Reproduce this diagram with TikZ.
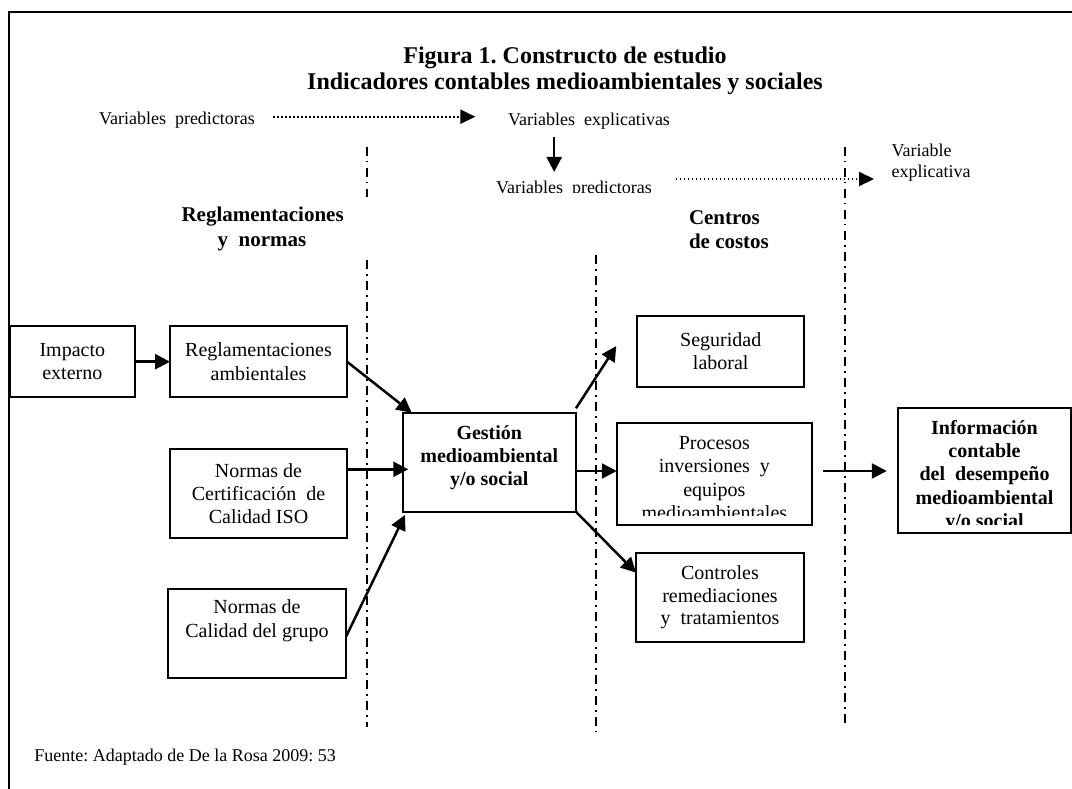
\documentclass[tikz,border=0pt]{standalone}
\usepackage{fontspec}
\setmainfont{Liberation Serif}
\usetikzlibrary{arrows.meta}
\frenchspacing
\tikzset{
  box/.style={draw, line width=2pt, outer sep=0pt, inner sep=0pt, align=center, font=\fontsize{20}{23.3}\selectfont},
  txt/.style={inner sep=0pt, outer sep=0pt, align=center},
  lab/.style={inner sep=0pt, outer sep=0pt, anchor=base, font=\fontsize{18}{21}\selectfont, text height=13pt, text depth=4pt},
  hdr/.style={inner sep=0pt, outer sep=0pt, anchor=base, font=\fontsize{21}{25}\selectfont\bfseries},
  ttl/.style={inner sep=0pt, outer sep=0pt, anchor=base, font=\fontsize{24}{27}\selectfont\bfseries},
  arr/.style={line width=2.5pt, -{Triangle[length=15pt,width=15pt]}},
  dotarr/.style={line width=2pt, dash pattern=on 1.8pt off 2.2pt, -{Triangle[length=15pt,width=14pt]}},
  sepline/.style={line width=2pt, dash pattern=on 9pt off 5pt on 1.5pt off 5.5pt},
}
\begin{document}
\begin{tikzpicture}[x=1pt,y=-1pt]
\useasboundingbox (0,0) rectangle (1072,789);
% frame
\draw[line width=2pt] (1072,11.7) -- (8.6,11.7) -- (8.6,789);

% title
\node[ttl] (t1) at (565,63.3) {Figura 1. Constructo de estudio};
\node[ttl] (t2) at (565,90) {Indicadores contables medioambientales y sociales};

% top labels
\node[lab] (vp1) at (177,125) {Variables\ \ predictoras};
\node[lab] (ve1) at (589,126) {Variables\ \ explicativas};
\begin{scope}
\clip (0,0) rectangle (1072,192.5);
\node[lab] (vp2) at (574,193.5) {Variables\ \ predictoras};
\end{scope}
\node[lab, anchor=base west] (vex1) at (891.7,156.7) {Variable};
\node[lab, anchor=base west] (vex2) at (891.7,178) {explicativa};

\draw[dotarr, shorten <=17.9pt, shorten >=32.7pt] ([yshift=3.8pt]vp1.east) -- ([yshift=3.8pt]vp1.east -| ve1.west);
\coordinate (dtop) at ([xshift=-34.8pt]ve1.south);
\draw[arr, shorten <=6.7pt, shorten >=8.5pt] (dtop) -- (dtop |- vp2.north);
\coordinate (d2s) at ([yshift=10pt]vp2.east);
\draw[dotarr, shorten <=23.6pt, shorten >=17.7pt] (d2s) -- (d2s -| vex2.west);

% section headers
\node[hdr] (h1a) at (262.6,221.7) {Reglamentaciones};
\node[hdr] (h1b) at (262,246.7) {y\ \ normas};
\node[hdr, anchor=base west] (h2a) at (689,225) {Centros};
\node[hdr, anchor=base west] (h2b) at (689,248.3) {de costos};

% separator lines
\draw[sepline] (366.7,146.7) -- (366.7,196.7);
\draw[sepline] (366.7,260) -- (366.7,726.7);
\draw[sepline] (596,255) -- (596,731.7);
\draw[sepline] (845,147) -- (845,726.7);

% boxes
\node[box, minimum width=125.4pt, minimum height=71.3pt] (imp) at (72.3,361.7) {Impacto\\externo};
\node[box, minimum width=177pt, minimum height=71.3pt] (regl) at (258.5,361.7) {Reglamentaciones\\ambientales};
\node[box, minimum width=177pt, minimum height=89.3pt] (iso) at (258.5,493.7) {Normas de\\Certificación\ \ de\\Calidad ISO};
\node[box, minimum width=178pt, minimum height=89.3pt] (grupo) at (257,633.7) {Normas de\\Calidad del grupo\\\strut};
\node[box, minimum width=173.3pt, minimum height=99pt] (gest) at (489.3,462.2) {};
\node[txt, font=\fontsize{20}{23.3}\selectfont\bfseries] (gesttxt) at (489.3,457.8) {Gestión\\medioambiental\\y/o social};
\node[box, minimum width=166.6pt, minimum height=71pt] (seg) at (720.7,351.2) {Seguridad\\laboral};
\node[box, minimum width=195.3pt, minimum height=101.5pt] (proc) at (714.4,473.8) {};
\node[box, minimum width=168pt, minimum height=88.4pt, font=\fontsize{20}{22.6}\selectfont] (ctrl) at (720,597.5) {Controles\\remediaciones\\y\ \ tratamientos};
\node[box, minimum width=172.4pt, minimum height=125pt] (info) at (984.5,470.5) {};

\begin{scope}
\clip (proc.north west) rectangle ([yshift=9.5pt]proc.south east);
\node[txt, font=\fontsize{20}{23.4}\selectfont] (proctxt) at (714.4,477.9) {Procesos\\inversiones\ \ y\\equipos\\medioambientales};
\end{scope}
\begin{scope}
\clip (info.north west) rectangle ([yshift=8.7pt]info.south east);
\node[txt, font=\fontsize{20}{23.2}\selectfont\bfseries] (infotxt) at (984.5,476) {Información\\contable\\del\ \ desempeño\\medioambiental\\y/o social};
\end{scope}

% connectors
\draw[arr] (imp.east) -- (regl.west);
\draw[arr] (regl.east) -- ([xshift=9pt]gest.north west);
\coordinate (isoout) at ([yshift=24.4pt]iso.east);
\draw[arr, shorten >=-5.6pt] (isoout) -- (isoout -| gest.west);
\draw[arr] ([yshift=-3pt]grupo.east) -- ([xshift=2.3pt,yshift=-3.3pt]gest.south west);
\draw[arr] ([yshift=4.4pt]gest.north east) -- ([xshift=-21.1pt,yshift=5.2pt]seg.west);
\coordinate (gpout) at ([yshift=-8.8pt]gest.east);
\draw[arr] (gpout) -- (gpout -| proc.west);
\draw[arr] (gest.south east) -- ([yshift=-19.4pt]ctrl.north west);
\draw[arr, shorten <=11.3pt, shorten >=11.5pt] (gpout -| proc.east) -- (gpout -| info.west);

% source
\node[lab, anchor=base west] (fuente) at (34.4,761) {Fuente: Adaptado de De la Rosa 2009: 53};
\end{tikzpicture}
\end{document}
